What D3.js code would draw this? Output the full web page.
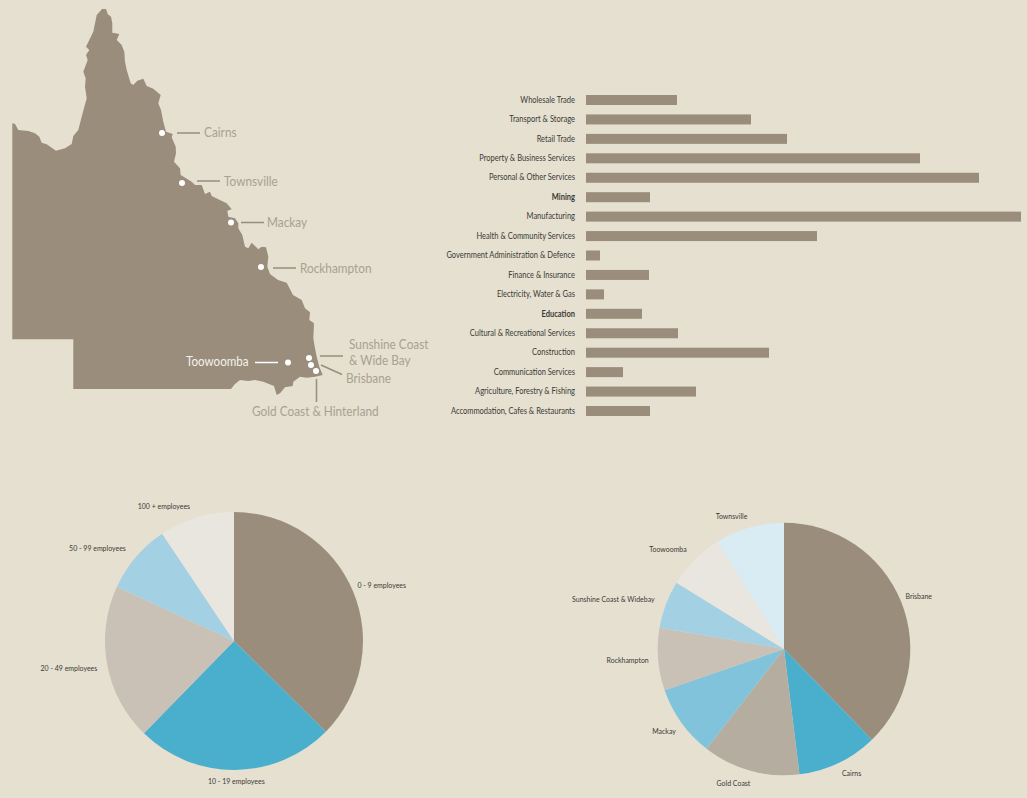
<!DOCTYPE html>
<html>
<head>
<meta charset="utf-8">
<script src="https://cdnjs.cloudflare.com/ajax/libs/d3/7.8.5/d3.min.js"></script>
<style>
  html, body { margin: 0; padding: 0; background: #e5e0d0; }
  svg { display: block; }
  text { font-family: Lato, "Noto Sans", sans-serif; }
  .domain { display: none; }
</style>
</head>
<body>
<div id="chart"></div>
<script>
const industries = ["Wholesale Trade", "Transport & Storage", "Retail Trade", "Property & Business Services",
  "Personal & Other Services", "Mining", "Manufacturing", "Health & Community Services",
  "Government Administration & Defence", "Finance & Insurance", "Electricity, Water & Gas", "Education",
  "Cultural & Recreational Services", "Construction", "Communication Services",
  "Agriculture, Forestry & Fishing", "Accommodation, Cafes & Restaurants"];
const industryValues = [91, 165, 201, 334, 393, 64, 435, 231, 14, 63, 18, 56, 92, 183, 37, 110, 64];
const boldIndustries = ["Mining", "Education"];

const sizeLabels = ["0 - 9 employees", "10 - 19 employees", "20 - 49 employees", "50 - 99 employees", "100 + employees"];
const sizeValues = [37.4, 24.9, 19.6, 8.7, 9.4];
const sizeColors = ["#9a8d7c", "#4aaecd", "#c9c0b6", "#a4d0e4", "#e9e6e0"];
const sizeNudge = [[-3, -3], [1, 3], [-2, 2], [-4, -3.5], [-4, -3.5]];

const regionLabels = ["Brisbane", "Cairns", "Gold Coast", "Mackay", "Rockhampton", "Sunshine Coast & Widebay", "Toowoomba", "Townsville"];
const regionValues = [37.75, 10.3, 12.45, 9.2, 8, 6.1, 7.4, 8.8];
const regionColors = ["#9a8d7c", "#4aaecd", "#b5ad9f", "#82c3dc", "#c9c0b6", "#a4d0e4", "#e9e6e0", "#d9ebf3"];
const regionNudge = [[-3, -2.5], [0, 3], [2, 4.5], [1, 3.5], [-1.4, 0.5], [-3.7, -2.6], [-2.3, -5.3], [0, -3.7]];

// outline of the state in map grid units
const stateOutline = [[102, 9], [106, 9], [107.7, 14], [111, 16.7], [112.3, 23.3], [112.3, 32.7], [119.3, 34], [116.7, 40],
  [121.7, 45], [124.3, 51.7], [125, 61.7], [126.7, 70], [130.7, 83.3], [133.3, 85], [137.3, 80.7], [143.3, 78.7],
  [146.7, 86], [153.3, 88.7], [160.7, 95], [158.3, 103.3], [161, 110], [163.3, 121.7], [166, 131.7], [172.7, 134],
  [171.7, 137.3], [175.7, 146.7], [176, 153.3], [174, 161.7], [180, 168.3], [180.7, 175], [191.7, 181.7], [195, 185],
  [201.7, 185], [205, 194], [210, 191.7], [211.7, 196], [218.3, 199.3], [226.7, 203.3], [231.7, 209.3], [227.3, 210.7],
  [228.3, 216.7], [235, 218.3], [238.3, 223.3], [238.3, 228.3], [242.3, 235], [245, 246.7], [248.3, 248.3],
  [251.7, 242.7], [258.3, 249.3], [261.7, 246.7], [266, 247.3], [268.3, 256.7], [267.3, 266.7], [270, 274], [278, 280],
  [286.7, 282.7], [293, 295], [301.7, 300], [305, 308.3], [310, 312.3], [309.3, 320], [314, 323.3], [313.3, 338.3],
  [315, 348.3], [316.7, 356.7], [319.3, 366.7], [322.7, 375], [315, 376.7], [306.7, 377.7], [300, 376.7], [293.3, 381.7],
  [292.7, 386], [285, 387.3], [280, 393.3], [276.7, 395], [274, 386], [263.3, 381.7], [255, 380], [248.3, 381], [240, 380],
  [235, 384], [231, 389], [73.3, 389], [73.3, 339.3], [12.3, 339.3], [12.3, 123.3], [15, 124], [18.3, 130], [28.3, 131],
  [35, 133.3], [39.3, 136.7], [41.7, 142.7], [46.7, 144.3], [56, 150.7], [65, 148.3], [71.7, 144], [73.3, 136], [78.3, 130],
  [81.7, 116.7], [86.7, 98.3], [85, 86.7], [85.7, 78.3], [83.3, 71.7], [87.7, 60], [86, 55], [89.3, 50], [86, 46.7],
  [91.7, 35], [93.3, 31.7], [96.7, 15]];

const townDots = [[162, 133], [182, 183], [231, 222.5], [261, 267], [288, 362.5], [309, 358], [311, 365], [316, 371]];
const leaderLines = [[177, 133, 200, 133], [197, 181, 220, 181], [241, 222.5, 264, 222.5], [273, 268, 296, 268],
  [320, 356, 343, 356], [321, 365, 342, 374.5], [316.5, 379, 316.5, 402]];
const townLabels = [["Cairns", 204, 133], ["Townsville", 224, 182], ["Mackay", 267, 223], ["Rockhampton", 300, 269],
  ["Sunshine Coast", 349, 345], ["& Wide Bay", 349, 361], ["Brisbane", 346, 379], ["Gold Coast & Hinterland", 252, 412]];

const w = 1027;
const h = 798;
const barColor = "#9a8d7c";
const mapText = "#aaa192";
const labelText = "#3b3a35";

const svg = d3.select("#chart")
              .append("svg")
              .attr("width", w)
              .attr("height", h);

// squeeze Lato towards the narrow face used in the original
const condense = (sel, k) => sel.each(function () {
  d3.select(this)
    .attr("textLength", this.getComputedTextLength() * k)
    .attr("lengthAdjust", "spacingAndGlyphs");
});

/* map */
const mapX = d3.scaleLinear().domain([12, 323]).range([12, 323]);
const mapY = d3.scaleLinear().domain([9, 395]).range([9, 395]);
const outline = d3.line().x((d) => mapX(d[0])).y((d) => mapY(d[1])).curve(d3.curveLinearClosed);

svg.append("path")
   .attr("d", outline(stateOutline))
   .attr("fill", barColor);

svg.selectAll(".leader")
   .data(leaderLines)
   .enter()
   .append("line")
   .attr("class", "leader")
   .attr("x1", (d) => mapX(d[0]))
   .attr("y1", (d) => mapY(d[1]))
   .attr("x2", (d) => mapX(d[2]))
   .attr("y2", (d) => mapY(d[3]))
   .attr("stroke", barColor)
   .attr("stroke-width", 1.5);

svg.append("line")
   .attr("x1", mapX(255)).attr("y1", mapY(362.5))
   .attr("x2", mapX(278)).attr("y2", mapY(362.5))
   .attr("stroke", "#fff")
   .attr("stroke-width", 1.5);

svg.selectAll(".town")
   .data(townDots)
   .enter()
   .append("circle")
   .attr("class", "town")
   .attr("cx", (d) => mapX(d[0]))
   .attr("cy", (d) => mapY(d[1]))
   .attr("r", 3)
   .attr("fill", "#fff");

svg.selectAll(".town-label")
   .data(townLabels)
   .enter()
   .append("text")
   .attr("class", "town-label")
   .attr("x", (d) => mapX(d[1]))
   .attr("y", (d) => mapY(d[2]))
   .attr("dy", "0.35em")
   .attr("font-size", 12.5)
   .attr("fill", mapText)
   .text((d) => d[0])
   .call(condense, 0.945);

svg.append("text")
   .attr("x", mapX(186))
   .attr("y", mapY(362))
   .attr("dy", "0.35em")
   .attr("font-size", 12.5)
   .attr("fill", "#f4f2ec")
   .text("Toowoomba")
   .call(condense, 0.93);

/* industry bars */
const xScale = d3.scaleLinear().domain([0, d3.max(industryValues)]).range([586, 1021]);
const yScale = d3.scaleBand().domain(industries).range([95, 416]).paddingInner(0.486);

svg.selectAll(".bar")
   .data(industries)
   .enter()
   .append("rect")
   .attr("class", "bar")
   .attr("x", xScale(0))
   .attr("y", (d) => yScale(d))
   .attr("width", (d, i) => xScale(industryValues[i]) - xScale(0))
   .attr("height", yScale.bandwidth())
   .attr("fill", barColor);

const yAxis = svg.append("g")
                 .attr("transform", "translate(" + (xScale(0) - 5) + ", 0)")
                 .call(d3.axisLeft(yScale).tickSize(0).tickPadding(6));

yAxis.selectAll("text")
     .attr("font-size", 8.5)
     .attr("font-family", "Lato")
     .attr("fill", labelText)
     .attr("font-weight", (d) => boldIndustries.includes(d) ? 700 : 400)
     .call(condense, 0.885);

/* pies */
function drawPie(cx, cy, radius, labels, values, colors, nudge, startSide) {
  const pie = d3.pie().sort(null).value((d) => d);
  const arc = d3.arc().innerRadius(0).outerRadius(radius);
  const labelRadius = radius + 8;
  const labelArc = d3.arc().innerRadius(labelRadius).outerRadius(labelRadius);
  const g = svg.append("g").attr("transform", "translate(" + cx + ", " + cy + ")");
  const slices = pie(values);

  g.selectAll("path")
   .data(slices)
   .enter()
   .append("path")
   .attr("d", arc)
   .attr("fill", (d, i) => colors[i]);

  g.selectAll("text")
   .data(slices)
   .enter()
   .append("text")
   .attr("x", (d, i) => labelArc.centroid(d)[0] + nudge[i][0])
   .attr("y", (d, i) => labelArc.centroid(d)[1] + nudge[i][1])
   .attr("dy", "0.35em")
   .attr("font-size", 8)
   .attr("fill", labelText)
   .attr("text-anchor", (d, i) => startSide[i])
   .text((d, i) => labels[i])
   .call(condense, 0.87);
}

drawPie(234, 641, 129, sizeLabels, sizeValues, sizeColors, sizeNudge,
        ["start", "middle", "end", "end", "end"]);
drawPie(784, 649, 126.3, regionLabels, regionValues, regionColors, regionNudge,
        ["start", "start", "end", "end", "end", "end", "end", "end"]);
</script>
</body>
</html>
